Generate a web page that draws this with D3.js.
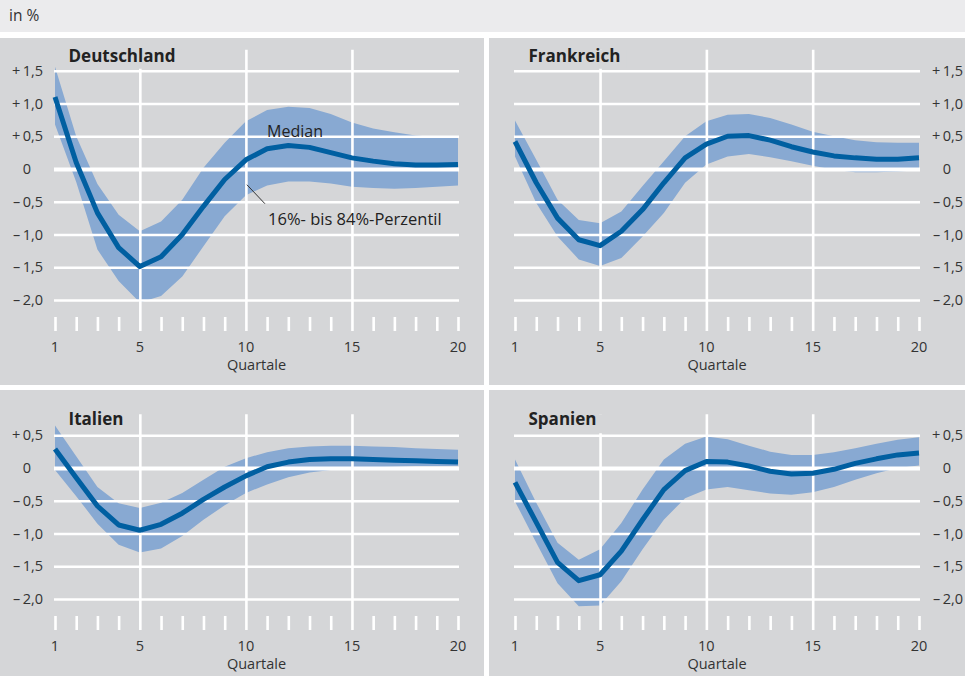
<!DOCTYPE html>
<html>
<head>
<meta charset="utf-8">
<script src="https://cdn.jsdelivr.net/npm/d3@7"></script>
<style>
  body { margin: 0; background: #fff; }
  svg { display: block; font-family: "Open Sans", sans-serif; }
</style>
</head>
<body>
<div id="chart"></div>
<script>
// Quartale nach dem Schock
const quarters = [1, 2, 3, 4, 5, 6, 7, 8, 9, 10, 11, 12, 13, 14, 15, 16, 17, 18, 19, 20];
const xLabelTicks = [1, 5, 10, 15, 20];
const xGridTicks = [5, 10, 15];
const yTicksTop = [1.5, 1.0, 0.5, 0, -0.5, -1.0, -1.5, -2.0];
const yTicksBottom = [0.5, 0, -0.5, -1.0, -1.5, -2.0];

// Deutschland
const deMedian = [1.10, 0.10, -0.67, -1.20, -1.49, -1.34, -1.00, -0.57, -0.16, 0.14, 0.31, 0.36, 0.33, 0.25, 0.17, 0.12, 0.08, 0.06, 0.06, 0.07];
const deUpper  = [1.56, 0.50, -0.23, -0.70, -0.95, -0.80, -0.47, 0.02, 0.40, 0.73, 0.90, 0.95, 0.93, 0.84, 0.71, 0.62, 0.56, 0.51, 0.49, 0.48];
const deLower  = [0.68, -0.20, -1.23, -1.71, -2.04, -1.94, -1.64, -1.18, -0.72, -0.40, -0.25, -0.19, -0.19, -0.22, -0.27, -0.29, -0.30, -0.29, -0.27, -0.25];
// Frankreich
const frMedian = [0.42, -0.21, -0.75, -1.08, -1.17, -0.95, -0.62, -0.21, 0.17, 0.38, 0.50, 0.51, 0.44, 0.34, 0.26, 0.20, 0.17, 0.15, 0.15, 0.17];
const frUpper  = [0.74, 0.14, -0.47, -0.78, -0.83, -0.65, -0.26, 0.12, 0.50, 0.73, 0.83, 0.84, 0.78, 0.68, 0.57, 0.50, 0.44, 0.41, 0.40, 0.40];
const frLower  = [0.19, -0.52, -1.03, -1.38, -1.48, -1.36, -1.03, -0.67, -0.21, 0.07, 0.19, 0.23, 0.18, 0.12, 0.05, -0.01, -0.05, -0.05, -0.04, -0.02];
// Italien
const itMedian = [0.29, -0.15, -0.58, -0.87, -0.95, -0.86, -0.69, -0.48, -0.29, -0.12, 0.02, 0.09, 0.13, 0.14, 0.14, 0.13, 0.12, 0.11, 0.10, 0.09];
const itUpper  = [0.65, 0.18, -0.29, -0.54, -0.61, -0.53, -0.38, -0.18, 0.02, 0.15, 0.24, 0.30, 0.33, 0.34, 0.34, 0.33, 0.32, 0.30, 0.29, 0.28];
const itLower  = [-0.03, -0.43, -0.85, -1.17, -1.29, -1.23, -1.04, -0.79, -0.57, -0.38, -0.25, -0.14, -0.07, -0.03, -0.01, 0.01, 0.02, 0.03, 0.03, 0.03];
// Spanien
const esMedian = [-0.22, -0.83, -1.44, -1.72, -1.63, -1.27, -0.79, -0.33, -0.04, 0.10, 0.09, 0.03, -0.05, -0.09, -0.08, -0.02, 0.07, 0.14, 0.20, 0.23];
const esUpper  = [0.13, -0.53, -1.14, -1.40, -1.24, -0.84, -0.33, 0.13, 0.37, 0.48, 0.44, 0.34, 0.25, 0.20, 0.20, 0.24, 0.30, 0.37, 0.43, 0.47];
const esLower  = [-0.51, -1.14, -1.76, -2.11, -2.10, -1.73, -1.24, -0.79, -0.46, -0.33, -0.29, -0.34, -0.39, -0.41, -0.37, -0.29, -0.18, -0.08, 0.00, 0.04];

const width = 965, height = 676;
const panelBg = "#d5d6d8", bandColor = "#88a9d2", medianColor = "#005fa1", textColor = "#333";
const unit = 65.5; // px per 1 %-Punkt

const cols = [
  { x0: 0, x1: 484, plot: [55, 458], comma: 31 },
  { x0: 489, x1: 965, plot: [515, 919], comma: 951 }
];
const rows = [
  { y0: 38, y1: 385, bottom: 300, titleGap: 8.5 },
  { y0: 390, y1: 676, bottom: 599, titleGap: 10 }
];

const panels = [
  { name: "Deutschland", col: 0, row: 0, median: deMedian, lower: deLower, upper: deUpper, yTicks: yTicksTop, notes: true },
  { name: "Frankreich", col: 1, row: 0, median: frMedian, lower: frLower, upper: frUpper, yTicks: yTicksTop },
  { name: "Italien", col: 0, row: 1, median: itMedian, lower: itLower, upper: itUpper, yTicks: yTicksBottom },
  { name: "Spanien", col: 1, row: 1, median: esMedian, lower: esLower, upper: esUpper, yTicks: yTicksBottom }
];

const svg = d3.select("#chart").append("svg")
  .attr("width", width)
  .attr("height", height);

// Kopfzeile
svg.append("rect").attr("width", width).attr("height", 32).attr("fill", "#ebebed");
svg.append("text").attr("x", 9).attr("y", 21)
  .attr("font-size", 15.5).attr("fill", textColor).text("in %");

function tickParts(v) {
  if (v === 0) return ["0", ""];
  const s = Math.abs(v).toFixed(1).split(".");
  return [(v > 0 ? "+" : "\u2013") + "\u2009" + s[0], "," + s[1]];
}

panels.forEach(p => {
  const c = cols[p.col], r = rows[p.row];
  const yMax = d3.max(p.yTicks);

  const x = d3.scaleLinear().domain([1, 20]).range(c.plot);
  const y = d3.scaleLinear().domain([-2, yMax]).range([r.bottom, r.bottom - (yMax + 2) * unit]);
  const yTop = y(yMax);
  const vTop = yTop - 21;

  const g = svg.append("g");
  g.append("rect")
    .attr("x", c.x0).attr("y", r.y0)
    .attr("width", c.x1 - c.x0).attr("height", r.y1 - r.y0)
    .attr("fill", panelBg);

  const rowsData = quarters.map((q, i) => ({ q, m: p.median[i], lo: p.lower[i], hi: p.upper[i] }));

  // Band 16%-84%
  const area = d3.area()
    .x(d => x(d.q))
    .y0(d => y(d.lo))
    .y1(d => y(d.hi));
  g.append("path").attr("d", area(rowsData)).attr("fill", bandColor);

  // horizontale Gitterlinien
  const grid = g.append("g")
    .attr("transform", `translate(${c.plot[0] - 1},0)`)
    .call(d3.axisRight(y).tickValues(p.yTicks).tickSize(c.plot[1] - c.plot[0] + 2).tickFormat(""));
  grid.select(".domain").remove();
  grid.selectAll(".tick text").remove();
  grid.selectAll(".tick line")
    .attr("stroke", "#fff")
    .attr("stroke-width", d => d === 0 ? 3.8 : 2.6);

  // senkrechte Linien und Quartalsstriche
  const xAxis = g.append("g")
    .attr("transform", `translate(0,${r.bottom + 31})`)
    .call(d3.axisTop(x).tickValues(quarters).tickSize(14).tickFormat(""));
  xAxis.select(".domain").remove();
  xAxis.selectAll(".tick text").remove();
  xAxis.selectAll(".tick line")
    .attr("stroke", "#fff")
    .attr("stroke-width", 2.6)
    .attr("y2", d => xGridTicks.includes(d) ? vTop - r.bottom - 31 : -14);

  // Titel mit Hintergrund
  const title = g.append("text")
    .attr("x", x(1) + 13.5).attr("y", yTop - r.titleGap)
    .attr("font-size", 17).attr("font-weight", 700).attr("fill", "#222")
    .text(p.name);
  const tw = title.node().getComputedTextLength();
  g.insert("rect", () => title.node())
    .attr("x", x(1) + 9).attr("y", vTop)
    .attr("width", tw + 11).attr("height", yTop - vTop - 2)
    .attr("fill", panelBg);

  // Median
  const line = d3.line().x(d => x(d.q)).y(d => y(d.m));
  g.append("path").attr("d", line(rowsData))
    .attr("fill", "none").attr("stroke", medianColor)
    .attr("stroke-width", 5).attr("stroke-linejoin", "round");

  // y-Beschriftung, am Komma ausgerichtet
  const yl = g.append("g").attr("font-size", 14.5).attr("fill", textColor);
  p.yTicks.forEach(v => {
    const [a, b] = tickParts(v);
    yl.append("text").attr("x", c.comma).attr("y", y(v)).attr("dy", "0.36em")
      .attr("text-anchor", "end").text(a);
    if (b) yl.append("text").attr("x", c.comma).attr("y", y(v)).attr("dy", "0.36em").text(b);
  });

  // x-Beschriftung
  g.append("g").attr("font-size", 14.5).attr("fill", textColor)
    .selectAll("text").data(xLabelTicks).join("text")
    .attr("x", d => x(d)).attr("y", r.bottom + 52)
    .attr("text-anchor", "middle").text(d => d);
  g.append("text")
    .attr("x", (c.plot[0] + c.plot[1]) / 2).attr("y", r.bottom + 70)
    .attr("text-anchor", "middle").attr("font-size", 14.5).attr("fill", textColor)
    .text("Quartale");

  if (p.notes) {
    g.append("text").attr("x", x(11)).attr("y", y(0.58)).attr("dy", "0.36em")
      .attr("font-size", 16).attr("fill", "#222").text("Median");
    g.append("line")
      .attr("x1", x(10) + 1).attr("y1", y(-0.24))
      .attr("x2", x(10) + 19).attr("y2", y(-0.53))
      .attr("stroke", "#333").attr("stroke-width", 1);
    g.append("text").attr("x", x(11) + 1).attr("y", y(-0.77)).attr("dy", "0.36em")
      .attr("font-size", 16.5).attr("fill", "#222").text("16%- bis 84%-Perzentil");
  }
});
</script>
</body>
</html>
